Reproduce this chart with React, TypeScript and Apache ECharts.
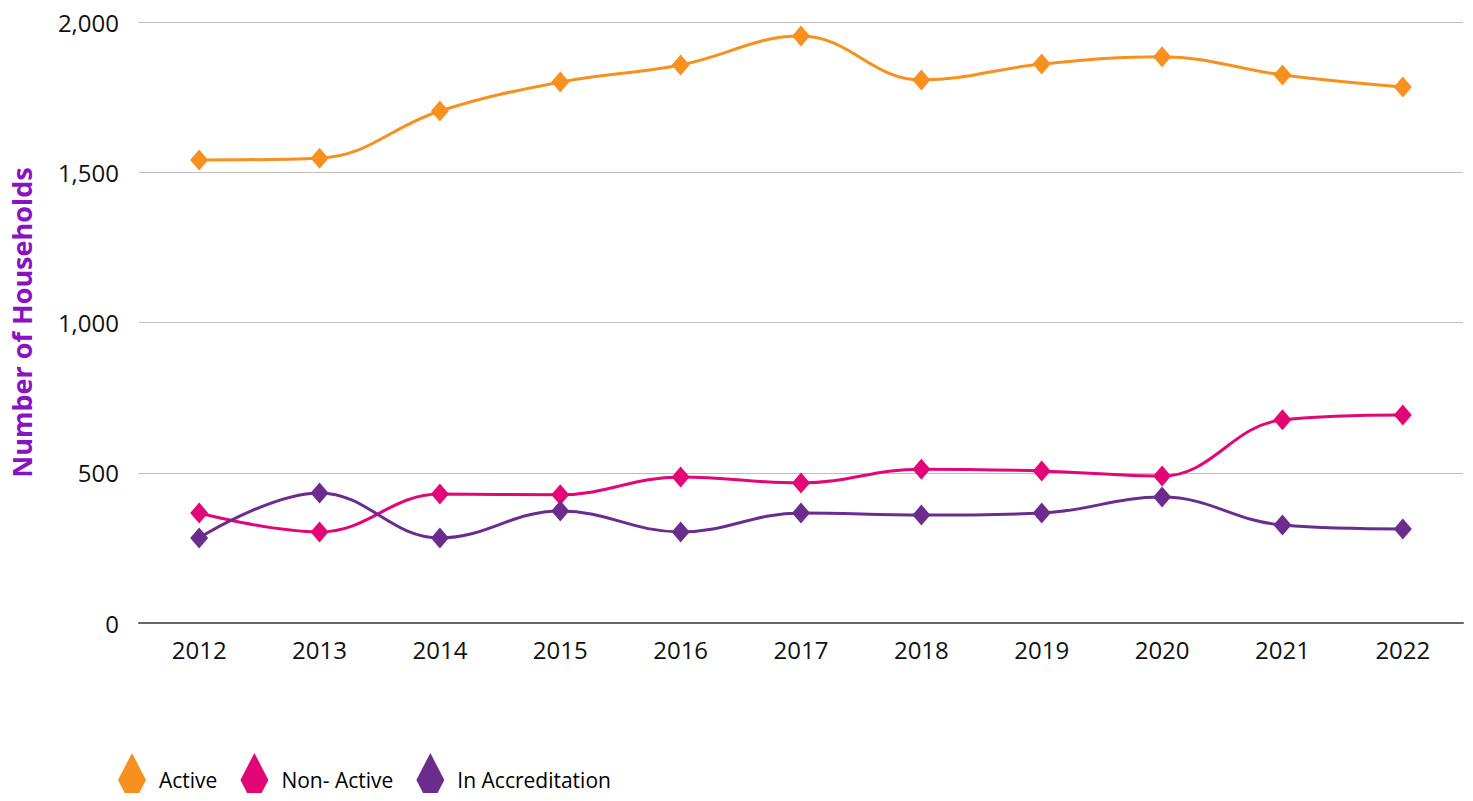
import React, { useEffect, useRef } from "react";
import * as echarts from "echarts";

const years = ["2012", "2013", "2014", "2015", "2016", "2017", "2018", "2019", "2020", "2021", "2022"];
const active = [1541, 1547, 1704, 1800, 1857, 1953, 1807, 1860, 1884, 1824, 1784];
const nonActive = [366, 303, 429, 427, 486, 466, 512, 506, 489, 676, 692];
const inAccreditation = [283, 433, 283, 373, 303, 366, 359, 366, 419, 326, 313];

const FONT = "'Open Sans', 'Noto Sans', sans-serif";

export default function App() {
  const ref = useRef<HTMLDivElement>(null);
  useEffect(() => {
    if (!ref.current) return;
    const chart = echarts.init(ref.current, undefined, { renderer: "svg" });
    const mk = (name: string, data: number[], color: string) => ({
      name,
      type: "line",
      data,
      smooth: 0.4,
      symbol: "diamond",
      symbolSize: [18, 21],
      showSymbol: true,
      itemStyle: { color },
      lineStyle: { color, width: 3 },
    });
    chart.setOption({
      animation: false,
      textStyle: { fontFamily: FONT },
      grid: { left: 139, right: 10, top: 22, bottom: 178 },
      legend: {
        left: 118,
        top: 753,
        padding: 0,
        icon: "diamond",
        itemWidth: 28,
        itemHeight: 54,
        itemGap: 23,
        textStyle: { fontSize: 21, color: "#000", fontFamily: FONT, padding: [0, 0, 0, 8] },
        data: ["Active", "Non- Active", "In Accreditation"],
      },
      xAxis: {
        type: "category",
        data: years,
        boundaryGap: true,
        axisLine: { lineStyle: { color: "#666", width: 2 } },
        axisTick: { show: false },
        axisLabel: { fontSize: 24, color: "#111", margin: 14, fontFamily: FONT },
      },
      yAxis: {
        type: "value",
        min: 0,
        max: 2000,
        interval: 500,
        name: "Number of Households",
        nameLocation: "middle",
        nameGap: 104,
        nameTextStyle: { fontSize: 27, fontWeight: "bold", color: "#8a12c2", fontFamily: FONT },
        axisLine: { show: false },
        axisTick: { show: false },
        splitLine: { lineStyle: { color: "#bdbdbd", width: 1 } },
        axisLabel: {
          fontSize: 24,
          color: "#111",
          margin: 20,
          fontFamily: FONT,
          formatter: (v: number) => v.toLocaleString("en-US"),
        },
      },
      series: [
        mk("Active", active, "#f7901e"),
        mk("Non- Active", nonActive, "#e20677"),
        mk("In Accreditation", inAccreditation, "#6b2c8e"),
      ],
    });
    return () => chart.dispose();
  }, []);
  return <div ref={ref} style={{ width: 1473, height: 801, margin: -8 }} />;
}
